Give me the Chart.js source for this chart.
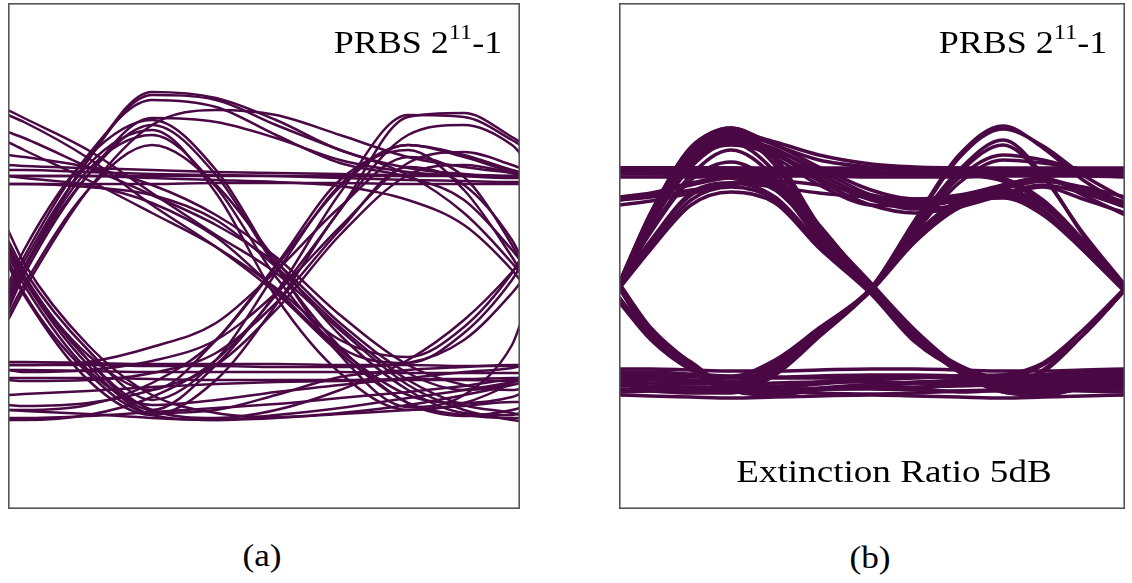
<!DOCTYPE html>
<html>
<head>
<meta charset="utf-8">
<script src="https://cdn.jsdelivr.net/npm/chart.js@4.4.0/dist/chart.umd.min.js"></script>
<style>
    body { margin: 0; background: #fff; }
    #page { position: relative; width: 1132px; height: 583px; background: #fff; overflow: hidden; }
    .panel { position: absolute; top: 3px; height: 506px; }
    .txt { position: absolute; font-family: "Liberation Serif", "Times New Roman", serif; color: #000; white-space: nowrap; line-height: 1; }
    .prbs { font-size: 31px; top: 27px; transform: scaleX(1.16); transform-origin: right center; }
    .prbs span { font-size: 21px; position: relative; top: -14px; }
    .cap { font-size: 32px; transform: translateX(-50%) scaleX(1.1); }
</style>
</head>
<body>
<div id="page">
    <div class="panel" style="left:8px; width:512px;"><canvas id="eyeA" width="512" height="506"></canvas></div>
    <div class="panel" style="left:619px; width:506px;"><canvas id="eyeB" width="506" height="506"></canvas></div>

    <div class="txt prbs" style="right:630px;">PRBS 2<span>11</span>-1</div>
    <div class="txt prbs" style="right:25px;">PRBS 2<span>11</span>-1</div>
    <div class="txt" style="left:894px; top:455px; font-size:32px; transform: translateX(-50%) scaleX(1.16);">Extinction Ratio 5dB</div>

    <div class="txt cap" style="left:262px; top:539px;">(a)</div>
    <div class="txt cap" style="left:870px; top:541px;">(b)</div>
</div>

<script>
// sample times (ps) across the 2-bit window
const timesA = [0, 8, 40, 72, 104, 134, 166, 200, 228, 252, 256];
const timesB = [0, 16, 36, 56, 78, 100, 126, 148, 170, 192, 212, 232, 253];

// amplitude (mV) of each trace at those times, panel (a)
const aRailsHigh = [
    [109, 109, 109, 109, 109, 109, 109, 109, 109, 109, 109],
    [101, 101, 101, 101, 102, 102, 102, 101, 101, 101, 101],
    [115, 115, 113, 111, 110, 109, 107, 105, 104, 103, 103],
    [120, 119, 117, 115, 113, 112, 111, 110, 110, 109, 109]
];
const aRailsLow = [
    [-77, -77, -78, -79, -79, -79, -80, -80, -81, -81, -81],
    [-85, -85, -86, -87, -87, -87, -87, -88, -88, -88, -88],
    [-133, -133, -131, -127, -123, -119, -113, -107, -101, -95, -95],
    [-125, -126, -129, -133, -135, -133, -129, -125, -121, -117, -117],
    [-93, -93, -93, -94, -95, -95, -95, -94, -94, -93, -93],
    [-110, -109, -106, -102, -99, -97, -96, -95, -95, -96, -96]
];
const aRiseStay = [
    [-15, 17, 125, 193, 187, 165, 135, 117, 111, 109, 109],
    [-25, 10, 110, 167, 163, 147, 125, 113, 109, 107, 107],
    [-15, 17, 125, 190, 185, 160, 135, 110, 72, 22, 12],
    [-35, -5, 95, 160, 175, 170, 150, 128, 118, 112, 111],
    [-5, 28, 130, 185, 178, 150, 122, 108, 85, 35, 25]
];
const aPulse = [
    [-20, 15, 110, 160, 110, 18, -62, -118, -131, -125, -123],
    [-10, 23, 120, 155, 92, -12, -88, -125, -118, -98, -93],
    [-15, 17, 115, 150, 98, 8, -62, -78, -48, 5, 18],
    [-30, 0, 95, 140, 100, 25, -50, -105, -128, -130, -128],
    [0, 35, 128, 165, 115, 20, -70, -122, -110, -60, -40]
];
const aHighFall = [
    [175, 167, 135, 92, 50, 12, -45, -100, -125, -135, -136],
    [170, 163, 127, 80, 38, -8, -68, -118, -130, -133, -133],
    [153, 147, 118, 90, 60, 22, -38, -88, -105, -97, -92],
    [109, 107, 100, 82, 48, -5, -65, -110, -118, -112, -109],
    [143, 135, 105, 72, 38, -3, -55, -72, -42, 12, 25],
    [130, 128, 118, 100, 70, 28, -30, -80, -100, -105, -104],
    [101, 101, 98, 90, 65, 18, -42, -95, -120, -128, -130]
];
const aDip = [
    [40, 10, -75, -125, -80, -8, 92, 170, 168, 145, 140],
    [45, 15, -65, -115, -75, 12, 100, 140, 130, 115, 113],
    [35, 7, -70, -105, -55, 20, 105, 135, 95, 28, 15],
    [20, -10, -95, -130, -95, -20, 75, 150, 160, 140, 132]
];
const aLowRise = [
    [-135, -135, -130, -112, -75, -10, 75, 168, 172, 148, 143],
    [-125, -125, -120, -98, -55, 18, 98, 140, 128, 113, 111],
    [-80, -80, -77, -62, -38, 14, 78, 128, 108, 40, 25],
    [-85, -87, -85, -76, -55, -8, 58, 122, 133, 120, 117],
    [-120, -121, -118, -105, -80, -25, 50, 110, 120, 112, 110],
    [-95, -96, -95, -88, -68, -18, 55, 118, 100, 45, 30]
];
const aFallStay = [
    [35, 5, -80, -130, -135, -130, -123, -113, -105, -97, -95],
    [30, 0, -85, -120, -115, -107, -100, -93, -87, -83, -81],
    [37, 7, -75, -125, -133, -125, -105, -75, -35, 13, 23],
    [55, 22, -60, -110, -128, -132, -128, -120, -110, -100, -98],
    [25, -8, -88, -128, -125, -110, -92, -85, -82, -80, -80]
];
const aLate = [
    [109, 109, 109, 107, 105, 103, 99, 85, 60, 15, 5],
    [-80, -80, -80, -81, -81, -82, -82, -78, -55, -8, 2]
];

// panel (b)
const bRailsHigh = [
    [117, 117, 117, 117, 116, 116, 116, 116, 117, 117, 117, 117, 117],
    [112, 112, 112, 111, 111, 111, 110, 110, 111, 111, 111, 111, 111],
    [114, 114, 115, 115, 114, 113, 113, 113, 114, 114, 114, 114, 114],
    [108, 108, 108, 109, 109, 109, 108, 108, 108, 109, 109, 109, 108]
];
const bRing = [
    [85, 88, 95, 102, 108, 111, 112, 112, 112, 112, 112, 112, 112],
    [80, 84, 92, 100, 104, 100, 90, 84, 86, 96, 104, 96, 82]
];
const bRailsLow = [
    [-90, -90, -91, -92, -92, -91, -90, -90, -91, -92, -92, -91, -90],
    [-97, -98, -99, -99, -98, -97, -97, -98, -99, -99, -98, -97, -97],
    [-104, -105, -106, -106, -105, -104, -104, -105, -106, -106, -105, -104, -104],
    [-110, -111, -112, -113, -112, -111, -110, -111, -112, -113, -112, -111, -110],
    [-84, -84, -85, -86, -86, -85, -84, -84, -85, -86, -86, -85, -84],
    [-100, -101, -102, -103, -104, -104, -103, -102, -101, -100, -100, -101, -102],
    [-107, -106, -105, -105, -106, -108, -109, -108, -106, -105, -105, -106, -107]
];
const bPulse = [
    [1, 70, 135, 157, 125, 57, -3, -50, -85, -107, -110, -103, -97],
    [-1, 63, 125, 150, 120, 53, -4, -52, -87, -105, -105, -100, -95],
    [-2, 55, 110, 135, 107, 47, -5, -53, -83, -97, -100, -95, -91],
    [-3, 40, 85, 98, 85, 39, -7, -55, -83, -95, -93, -89, -87],
    [0, 53, 105, 123, 100, 45, -5, -53, -83, -100, -87, -50, -5],
    [2, 72, 138, 155, 128, 60, 2, -45, -82, -103, -108, -104, -99],
    [0, 60, 118, 142, 113, 50, -2, -50, -85, -102, -104, -98, -92],
    [-4, 36, 80, 93, 82, 37, -9, -57, -84, -93, -90, -86, -85],
    [-2, 44, 90, 102, 88, 42, -6, -54, -82, -96, -95, -91, -88]
];
const bRiseStay = [
    [1, 73, 137, 157, 140, 125, 118, 116, 115, 115, 115, 115, 115],
    [0, 67, 130, 150, 133, 107, 85, 79, 85, 97, 105, 95, 80],
    [-1, 65, 127, 145, 135, 115, 90, 80, 85, 100, 107, 90, 70],
    [0, 65, 125, 143, 127, 100, 80, 79, 85, 87, 70, 35, -5],
    [1, 71, 134, 153, 143, 130, 121, 118, 117, 116, 116, 116, 116],
    [-1, 62, 122, 140, 130, 110, 88, 82, 86, 98, 106, 96, 83],
    [0, 45, 92, 102, 98, 92, 88, 86, 90, 100, 108, 112, 113],
    [0, 66, 128, 147, 136, 112, 86, 76, 80, 92, 100, 92, 78],
    [1, 68, 132, 151, 140, 118, 95, 86, 88, 98, 104, 98, 88],
    [-1, 64, 124, 144, 131, 104, 80, 72, 78, 90, 98, 86, 72]
];
const bHighFall = [
    [117, 117, 117, 115, 105, 60, -3, -51, -85, -107, -110, -103, -97],
    [85, 90, 100, 107, 95, 50, -5, -53, -87, -105, -103, -99, -93],
    [113, 113, 112, 110, 100, 53, -4, -50, -80, -93, -80, -50, -5],
    [117, 117, 116, 113, 102, 57, -1, -49, -84, -105, -108, -101, -95],
    [88, 92, 102, 108, 98, 54, -2, -51, -85, -102, -100, -96, -92],
    [111, 111, 110, 107, 96, 50, -6, -54, -84, -96, -95, -90, -86]
];
const bLowRise = [
    [1, -47, -77, -100, -85, -47, -3, 65, 130, 159, 137, 105, 80],
    [-93, -93, -95, -97, -81, -45, -3, 60, 115, 145, 110, 50, -5],
    [-100, -103, -105, -105, -87, -50, -4, 55, 107, 130, 125, 115, 113],
    [-1, -50, -81, -97, -80, -45, -5, 45, 80, 90, 75, 35, -7],
    [-87, -87, -89, -91, -75, -43, -4, 50, 85, 95, 80, 40, -5],
    [-2, -49, -80, -102, -88, -49, -4, 63, 127, 156, 139, 110, 86],
    [-95, -95, -97, -99, -84, -48, -5, 58, 112, 140, 108, 52, 0],
    [-104, -106, -108, -108, -90, -52, -5, 52, 102, 125, 122, 116, 114],
    [-3, -52, -83, -99, -82, -47, -6, 43, 77, 88, 74, 37, -3],
    [-90, -90, -91, -93, -77, -44, -5, 48, 82, 93, 79, 42, -2]
];
const bFallStay = [
    [1, -45, -80, -105, -110, -105, -100, -97, -95, -93, -92, -91, -91],
    [-1, -50, -83, -107, -107, -103, -100, -103, -107, -103, -85, -50, -5],
    [-17, -55, -85, -100, -103, -99, -95, -93, -91, -90, -90, -90, -90],
    [2, -43, -78, -103, -108, -104, -100, -98, -97, -96, -95, -95, -95],
    [-12, -52, -83, -100, -101, -97, -93, -92, -92, -92, -92, -92, -92]
];
const bLate = [
    [117, 117, 117, 117, 117, 117, 117, 115, 113, 107, 85, 45, -5],
    [113, 113, 113, 113, 113, 113, 113, 112, 110, 104, 82, 42, -3],
    [-92, -92, -92, -93, -93, -93, -92, -92, -92, -90, -78, -45, -3]
];

const traceColor = '#4a0845';

// box round the plot area
const framePlugin = {
    id: 'frame',
    afterDraw(chart) {
        const ca = chart.chartArea;
        const ctx = chart.ctx;
        ctx.save();
        ctx.strokeStyle = '#555';
        ctx.lineWidth = 1.6;
        ctx.strokeRect(ca.left + 0.8, ca.top + 0.8, ca.right - ca.left - 1.6, ca.bottom - ca.top - 1.6);
        ctx.restore();
    }
};

function makeEye(id, times, traces, xMax, width) {
    const datasets = traces.map(tr => ({
        data: times.map((t, i) => ({ x: t, y: tr[i] })),
        borderColor: traceColor,
        borderWidth: width,
        pointRadius: 0,
        fill: false,
        cubicInterpolationMode: 'monotone'
    }));
    new Chart(document.getElementById(id), {
        type: 'line',
        data: { datasets: datasets },
        options: {
            responsive: false,
            animation: false,
            events: [],
            layout: { padding: 0 },
            plugins: { legend: { display: false }, tooltip: { enabled: false } },
            scales: {
                x: { type: 'linear', min: 0, max: xMax, display: false },
                y: { min: -224, max: 282, display: false }
            }
        },
        plugins: [framePlugin]
    });
}

makeEye('eyeA', timesA,
    [].concat(aRailsHigh, aRailsLow, aRiseStay, aPulse, aHighFall, aDip, aLowRise, aFallStay, aLate),
    256, 2.5);
makeEye('eyeB', timesB,
    [].concat(bRailsHigh, bRing, bRailsLow, bPulse, bRiseStay, bHighFall, bLowRise, bFallStay, bLate),
    253, 3.5);
</script>
</body>
</html>
